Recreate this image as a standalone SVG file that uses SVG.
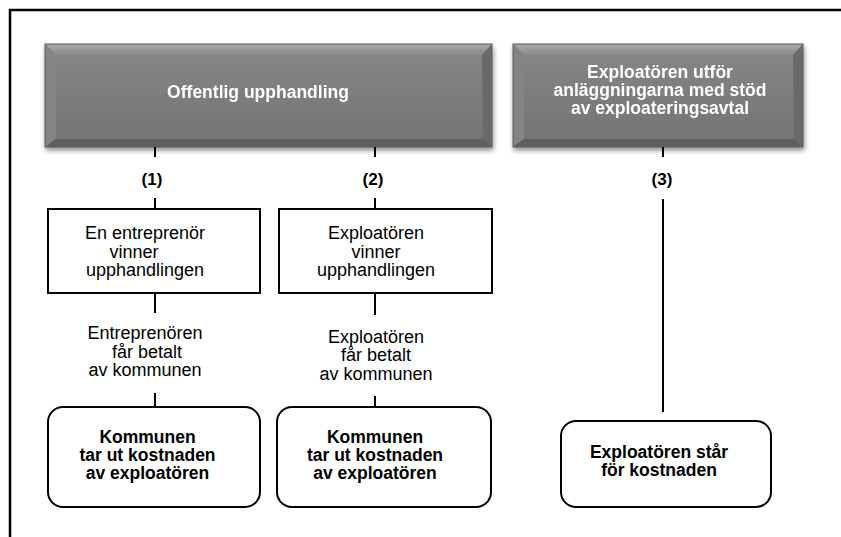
<svg xmlns="http://www.w3.org/2000/svg" width="841" height="537" viewBox="0 0 841 537">
  <defs>
    <linearGradient id="face" x1="0" y1="0" x2="0" y2="1">
      <stop offset="0" stop-color="#878787"/>
      <stop offset="1" stop-color="#737373"/>
    </linearGradient>
    <linearGradient id="topBevel" x1="0" y1="0" x2="0" y2="1">
      <stop offset="0" stop-color="#a8a8a8"/>
      <stop offset="1" stop-color="#8a8a8a"/>
    </linearGradient>
    <filter id="shadow" x="-5%" y="-10%" width="110%" height="130%">
      <feGaussianBlur in="SourceAlpha" stdDeviation="2.5"/>
      <feOffset dx="1" dy="3" result="b"/>
      <feComponentTransfer><feFuncA type="linear" slope="0.45"/></feComponentTransfer>
      <feMerge><feMergeNode/><feMergeNode in="SourceGraphic"/></feMerge>
    </filter>
  </defs>
  <style>
    .frame { fill: none; stroke: #000; stroke-width: 2.5; }
    .head { font-family: "Liberation Sans", Arial, sans-serif; font-weight: bold; font-size: 17.5px; fill: #fff; text-anchor: middle; }
    .num { font-family: "Liberation Sans", Arial, sans-serif; font-weight: bold; font-size: 17px; fill: #000; text-anchor: middle; }
    .box { fill: #fff; stroke: #000; stroke-width: 2; }
    .txt { font-family: "Liberation Sans", Arial, sans-serif; font-size: 18px; fill: #000; text-anchor: middle; }
    .res { font-family: "Liberation Sans", Arial, sans-serif; font-weight: bold; font-size: 17.5px; fill: #000; text-anchor: middle; }
    .conn line { stroke: #000; stroke-width: 2; }
    .edgeL { fill: #848484; }
    .edgeR { fill: #6a6a6a; }
    .edgeB { fill: #5e5e5e; }
  </style>

  <!-- outer frame (continues past the right and bottom edges) -->
  <rect class="frame" x="10" y="10" width="900" height="600"/>

  <!-- bevelled header: public procurement -->
  <g id="offentlig-upphandling" filter="url(#shadow)">
    <rect x="45" y="44" width="447" height="103" fill="url(#face)"/>
    <polygon points="45,44 492,44 482,55 56,55" fill="url(#topBevel)"/>
    <polygon class="edgeL" points="45,44 56,55 56,139 45,147"/>
    <polygon class="edgeR" points="492,44 492,147 483,139 482,55"/>
    <polygon class="edgeB" points="45,147 56,139 483,139 492,147"/>
    <rect x="45" y="44" width="447" height="103" fill="none" stroke="#5a5a5a" stroke-width="1"/>
    <text class="head" x="258" y="98">Offentlig upphandling</text>
  </g>

  <!-- bevelled header: developer builds under agreement -->
  <g id="exploatoren-utfor" filter="url(#shadow)">
    <rect x="513" y="44" width="290" height="103" fill="url(#face)"/>
    <polygon points="513,44 803,44 793,55 524,55" fill="url(#topBevel)"/>
    <polygon class="edgeL" points="513,44 524,55 524,139 513,147"/>
    <polygon class="edgeR" points="803,44 803,147 794,139 793,55"/>
    <polygon class="edgeB" points="513,147 524,139 794,139 803,147"/>
    <rect x="513" y="44" width="290" height="103" fill="none" stroke="#5a5a5a" stroke-width="1"/>
    <text class="head" x="660" y="77.5">Exploatören utför</text>
    <text class="head" x="660" y="95.5">anläggningarna med stöd</text>
    <text class="head" x="660" y="113.5">av exploateringsavtal</text>
  </g>

  <!-- connectors -->
  <g id="connectors" class="conn">
    <line x1="155" y1="147" x2="155" y2="157"/>
    <line x1="155" y1="198" x2="155" y2="209"/>
    <line x1="155" y1="293" x2="155" y2="313"/>
    <line x1="155" y1="393" x2="155" y2="407"/>
    <line x1="375" y1="147" x2="375" y2="157"/>
    <line x1="375" y1="198" x2="375" y2="209"/>
    <line x1="375" y1="293" x2="375" y2="315"/>
    <line x1="375" y1="396" x2="375" y2="407"/>
    <line x1="663" y1="147" x2="663" y2="157"/>
    <line x1="663" y1="199" x2="663" y2="412"/>
  </g>

  <!-- branch labels -->
  <g id="label-1"><text class="num" x="152" y="185">(1)</text></g>
  <g id="label-2"><text class="num" x="373" y="185">(2)</text></g>
  <g id="label-3"><text class="num" x="662" y="185">(3)</text></g>

  <!-- outcome boxes -->
  <g id="entreprenor-vinner">
    <rect class="box" x="48" y="209" width="212" height="84"/>
    <text class="txt" x="145" y="239">En entreprenör</text>
    <text class="txt" x="134" y="257.5">vinner</text>
    <text class="txt" x="145" y="276">upphandlingen</text>
  </g>
  <g id="exploatoren-vinner">
    <rect class="box" x="279" y="209" width="213" height="84"/>
    <text class="txt" x="376" y="239">Exploatören</text>
    <text class="txt" x="376" y="257.5">vinner</text>
    <text class="txt" x="376" y="276">upphandlingen</text>
  </g>

  <!-- payment notes -->
  <g id="entreprenoren-betalt">
    <text class="txt" x="145" y="339">Entreprenören</text>
    <text class="txt" x="147" y="357.5">får betalt</text>
    <text class="txt" x="145" y="376">av kommunen</text>
  </g>
  <g id="exploatoren-betalt">
    <text class="txt" x="376" y="342.5">Exploatören</text>
    <text class="txt" x="376" y="361">får betalt</text>
    <text class="txt" x="376" y="379.5">av kommunen</text>
  </g>

  <!-- cost outcomes -->
  <g id="kommunen-1">
    <rect class="box" x="48" y="407" width="212" height="100" rx="15"/>
    <text class="res" x="147.5" y="443">Kommunen</text>
    <text class="res" x="147.5" y="461">tar ut kostnaden</text>
    <text class="res" x="147.5" y="479">av exploatören</text>
  </g>
  <g id="kommunen-2">
    <rect class="box" x="277" y="407" width="214" height="100" rx="15"/>
    <text class="res" x="375" y="443">Kommunen</text>
    <text class="res" x="375" y="461">tar ut kostnaden</text>
    <text class="res" x="375" y="479">av exploatören</text>
  </g>
  <g id="exploatoren-star">
    <rect class="box" x="561" y="421" width="210" height="86" rx="15"/>
    <text class="res" x="659" y="457.5">Exploatören står</text>
    <text class="res" x="659" y="475.5">för kostnaden</text>
  </g>
</svg>
